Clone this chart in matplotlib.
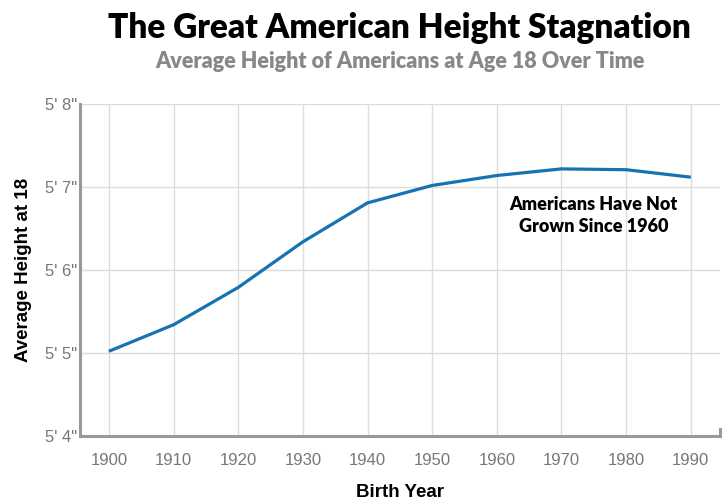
import matplotlib.pyplot as plt

# birth year vs average height at 18 (inches)
years = [1900, 1910, 1920, 1930, 1940, 1950, 1960, 1970, 1980, 1990]
heights = [65.02, 65.34, 65.79, 66.34, 66.81, 67.02, 67.14, 67.22, 67.21, 67.12]
y_ticks = [64, 65, 66, 67, 68]
y_labels = ["5' 4\"", "5' 5\"", "5' 6\"", "5' 7\"", "5' 8\""]

fig = plt.figure(figsize=(7.25, 5.01), dpi=100)
ax = fig.add_axes([0.110, 0.130, 0.883, 0.662])

ax.plot(years, heights, color='#1672b0', lw=2.3, solid_capstyle='butt', zorder=3)

ax.set_xlim(1895.5, 1994.5)
ax.set_ylim(64, 68)
ax.set_xticks(years)
ax.set_yticks(y_ticks)
ax.set_yticklabels(y_labels)
ax.grid(True, color='#dcdcdc', lw=1)
ax.set_axisbelow(True)
ax.tick_params(length=0, labelsize=12, labelcolor='#777777')
ax.tick_params(axis='x', pad=12)
ax.tick_params(axis='y', pad=2)
for t in ax.get_xticklabels() + ax.get_yticklabels():
    t.set_fontfamily('Liberation Sans')

for s in ['top', 'right']:
    ax.spines[s].set_visible(False)
for s in ['left', 'bottom']:
    ax.spines[s].set_color('#999999')
    ax.spines[s].set_linewidth(2.2)
# small end tick on the x axis
ax.plot([1, 1], [0, 0.02], transform=ax.transAxes, color='#999999', lw=2.2, clip_on=False)

ax.set_xlabel('Birth Year', fontsize=13.5, fontweight='bold', family='Liberation Sans', labelpad=12)
ax.set_ylabel('Average Height at 18', fontsize=13.5, fontweight='bold', family='Liberation Sans', labelpad=9)

ax.text(1975, 66.66, 'Americans Have Not\nGrown Since 1960', ha='center', va='center',
        fontsize=13, fontweight='heavy', family='Lato', linespacing=1.35)

fig.text(0.551, 0.945, 'The Great American Height Stagnation', ha='center', va='center',
         fontsize=24, fontweight='heavy', family='Lato')
fig.text(0.551, 0.878, 'Average Height of Americans at Age 18 Over Time', ha='center', va='center',
         fontsize=15.5, fontweight='heavy', family='Lato', color='#888888')

fig.savefig('out.png', dpi=100)
